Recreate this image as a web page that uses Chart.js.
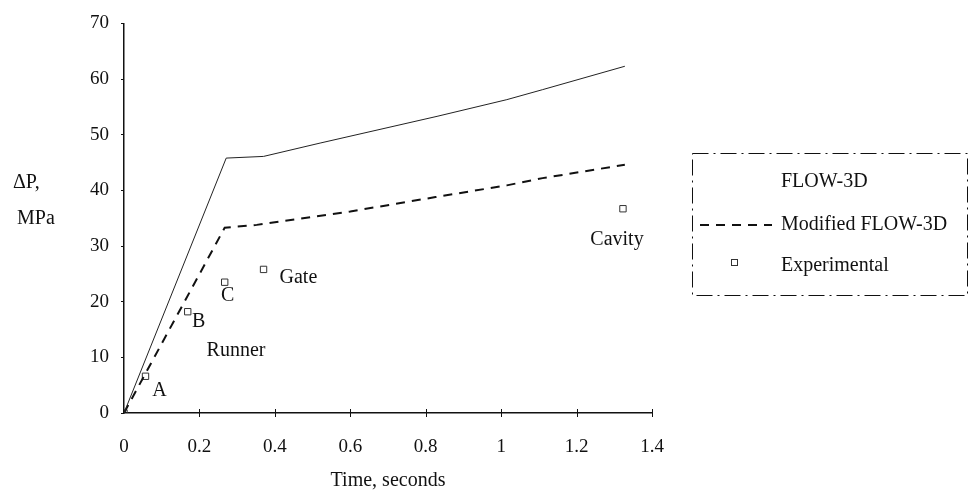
<!DOCTYPE html>
<html>
<head>
<meta charset="utf-8">
<script src="https://cdn.jsdelivr.net/npm/chart.js@4/dist/chart.umd.min.js"></script>
<style>
html,body{margin:0;padding:0;background:#fff;}
#wrap{width:970px;height:495px;position:relative;}
</style>
</head>
<body>
<div id="wrap"><canvas id="c" width="970" height="495"></canvas></div>
<script>
// ---- data ----
const flowTime   = [0, 0.271, 0.37, 0.52, 0.83, 1.015, 1.11, 1.328];
const flowDP     = [0, 45.8, 46.1, 48.5, 53.3, 56.3, 58.1, 62.3];
const modTime    = [0, 0.267, 0.352, 0.6, 0.826, 1.015, 1.11, 1.328];
const modDP      = [0, 33.3, 33.8, 36.2, 38.8, 40.9, 42.2, 44.6];
const expTime    = [0, 0.057, 0.169, 0.267, 0.370, 1.323];
const expDP      = [0, 6.6, 18.2, 23.5, 25.8, 36.7];
const expNames   = ['', 'A', 'B', 'C', 'Gate', 'Cavity'];
const xTicks     = [0, 0.2, 0.4, 0.6, 0.8, 1, 1.2, 1.4];
const yTicks     = [0, 10, 20, 30, 40, 50, 60, 70];
const legendNames = ['FLOW-3D', 'Modified FLOW-3D', 'Experimental'];
const regionLabel = {text: 'Runner', x: 0.219, y: 11.2};
const xTitle = 'Time, seconds';
const yTitle = ['\u0394P,', 'MPa'];

const ink = '#111';
const FONT = '"Liberation Serif", "DejaVu Serif", serif';

function pts(xs, ys){ return xs.map((x,i)=>({x:x, y:ys[i]})); }

// label offsets (pixels) relative to each experimental point
const labelOffsets = [[0,0],[14,14],[11,10],[3,14],[16,8],[-6,31]];
const labelAlign   = ['left','center','center','center','left','center'];

const decor = {
  id:'decor',
  afterDraw(chart){
    const ctx = chart.ctx, xs = chart.scales.x, ys = chart.scales.y;
    ctx.save();
    // crossing x ticks
    ctx.strokeStyle = ink; ctx.lineWidth = 1;
    const y0 = ys.getPixelForValue(0);
    xTicks.forEach(v=>{
      if (v === 0) return;
      const px = Math.round(xs.getPixelForValue(v)) + 0.5;
      ctx.beginPath(); ctx.moveTo(px, y0 - 4); ctx.lineTo(px, y0 + 4); ctx.stroke();
    });

    ctx.fillStyle = ink;
    ctx.font = '20px ' + FONT;
    ctx.textBaseline = 'middle';
    // point labels
    expNames.forEach((t,i)=>{
      if(!t) return;
      const px = xs.getPixelForValue(expTime[i]) + labelOffsets[i][0];
      const py = ys.getPixelForValue(expDP[i]) + labelOffsets[i][1];
      ctx.textAlign = labelAlign[i];
      ctx.fillText(t, px, py);
    });
    ctx.textAlign = 'left';
    ctx.fillText(regionLabel.text, xs.getPixelForValue(regionLabel.x), ys.getPixelForValue(regionLabel.y));
    // axis titles
    ctx.textAlign = 'center';
    ctx.fillText(xTitle, (xs.left + xs.right)/2, 481);
    ctx.textAlign = 'left';
    ctx.fillText(yTitle[0], 13, 183);
    ctx.fillText(yTitle[1], 17, 219);

    // legend box
    const L = 692, T = 153, R = 967, B = 295;
    ctx.strokeStyle = ink;
    ctx.lineWidth = 1;
    ctx.setLineDash([16,5,2,5]);
    ctx.strokeRect(L + 0.5, T + 0.5, R - L, B - T);
    ctx.setLineDash([]);
    const ds = chart.data.datasets;
    const rows = [182, 225, 266];
    ctx.font = '20px ' + FONT;
    ctx.textAlign = 'left';
    ctx.fillText(legendNames[0], 781, rows[0]);
    ctx.strokeStyle = ds[1].borderColor;
    ctx.lineWidth = ds[1].borderWidth;
    ctx.setLineDash(ds[1].borderDash);
    ctx.beginPath(); ctx.moveTo(700, rows[1]); ctx.lineTo(772, rows[1]); ctx.stroke();
    ctx.setLineDash([]);
    ctx.fillText(legendNames[1], 781, rows[1]);
    ctx.strokeStyle = ds[2].borderColor;
    ctx.lineWidth = 1;
    ctx.strokeRect(731.5, rows[2] - 6.5, 6, 6);
    ctx.fillText(legendNames[2], 781, rows[2]);
    ctx.restore();
  }
};

new Chart(document.getElementById('c'), {
  type: 'scatter',
  data: {
    datasets: [
      { label: legendNames[0], data: pts(flowTime, flowDP), showLine: true,
        borderColor: '#222', borderWidth: 1, pointRadius: 0, tension: 0 },
      { label: legendNames[1], data: pts(modTime, modDP), showLine: true,
        borderColor: ink, borderWidth: 2, borderDash: [9,7], pointRadius: 0, tension: 0 },
      { label: legendNames[2], data: pts(expTime, expDP), showLine: false,
        pointStyle: 'rect', pointRadius: 4.5, borderColor: '#333', borderWidth: 1,
        backgroundColor: 'rgba(255,255,255,0)' }
    ]
  },
  options: {
    responsive: false,
    animation: false,
    devicePixelRatio: 1,
    layout: { padding: { left: 0, top: 20, right: 318, bottom: 0 } },
    plugins: { legend: { display: false }, tooltip: { enabled: false } },
    scales: {
      x: {
        type: 'linear', min: 0, max: 1.4,
        afterFit(s){ s.height = 82; },
        afterBuildTicks(s){ s.ticks = xTicks.map(v=>({value:v})); },
        grid: { drawOnChartArea: false, drawTicks: true, tickLength: 4, color: 'rgba(0,0,0,0)' },
        border: { display: true, color: ink, width: 1.5 },
        ticks: { padding: 19, color: ink, font: { family: FONT, size: 19 },
                 maxRotation: 0, callback: v => String(v) }
      },
      y: {
        type: 'linear', min: 0, max: 70,
        afterFit(s){ s.width = 124; },
        afterBuildTicks(s){ s.ticks = yTicks.map(v=>({value:v})); },
        grid: { drawOnChartArea: false, drawTicks: true, tickLength: 3, color: ink },
        border: { display: true, color: ink, width: 1.5 },
        ticks: { padding: 12, color: ink, font: { family: FONT, size: 19 } }
      }
    }
  },
  plugins: [decor]
});
</script>
</body>
</html>
